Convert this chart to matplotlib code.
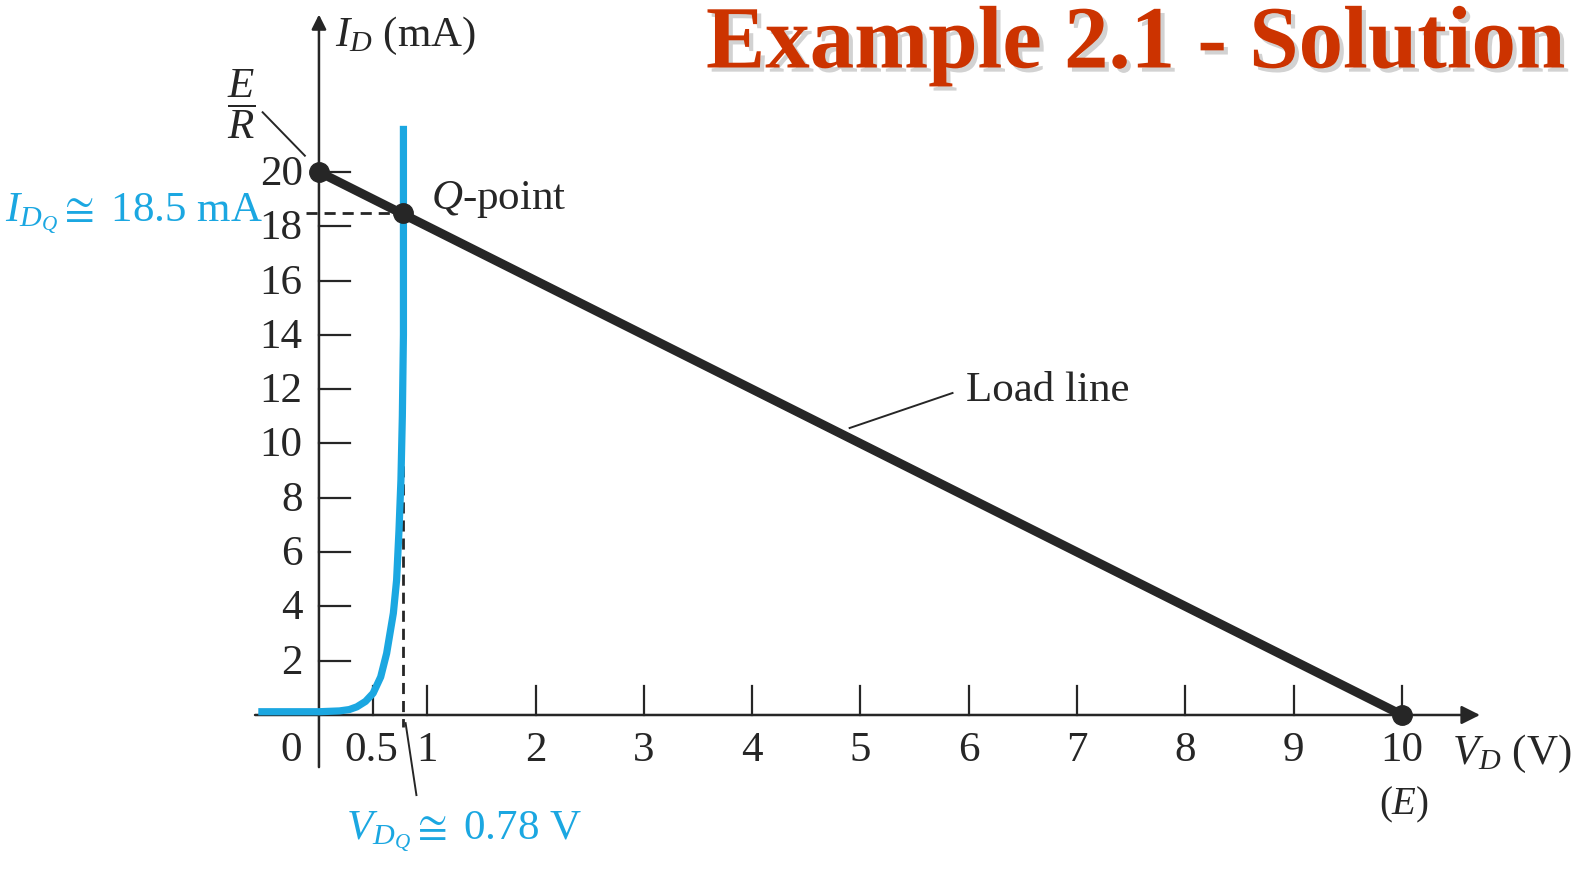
import matplotlib.pyplot as plt
import matplotlib.patheffects as pe

plt.rcParams['font.family'] = 'Liberation Serif'
plt.rcParams['mathtext.fontset'] = 'custom'
plt.rcParams['mathtext.rm'] = 'Liberation Serif'
plt.rcParams['mathtext.it'] = 'Liberation Serif:italic'

# diode characteristic I_D(V_D), read point by point
diode_v = [-0.56, 0.0, 0.19, 0.28, 0.35, 0.43, 0.5, 0.57, 0.625, 0.687, 0.717, 0.739, 0.757, 0.77, 0.78, 0.78]
diode_i = [0.12, 0.12, 0.15, 0.2, 0.3, 0.5, 0.8, 1.4, 2.27, 3.75, 4.97, 6.8, 8.66, 11.0, 14.0, 21.7]

# load line end points: E = 10 V, E/R = 20 mA
E = 10
E_over_R = 20
load_v = [0, E]
load_i = [E_over_R, 0]

# operating point
vq = 0.78
iq = 18.5

x_ticks = [0.5, 1, 2, 3, 4, 5, 6, 7, 8, 9, 10]
x_labels = ['0.5', '1', '2', '3', '4', '5', '6', '7', '8', '9', '10']
y_ticks = [2, 4, 6, 8, 10, 12, 14, 16, 18, 20]

black = '#262626'
blue = '#1ba7e1'
fs = 31

fig = plt.figure(figsize=(15.81, 8.72), dpi=100)
ax = fig.add_axes([0, 0, 1, 1])
ax.set_xlim(-2.945, 11.653)
ax.set_ylim(-5.783, 26.335)
ax.axis('off')

# axes with arrow heads
ax.annotate('', xy=(10.72, 0), xytext=(-0.59, 0),
            arrowprops=dict(arrowstyle='-|>', color=black, lw=1.8, mutation_scale=28, shrinkA=0, shrinkB=0))
ax.annotate('', xy=(0, 25.8), xytext=(0, -1.92),
            arrowprops=dict(arrowstyle='-|>', color=black, lw=1.8, mutation_scale=22, shrinkA=0, shrinkB=0))

# ticks
for xt in x_ticks:
    ax.plot([xt, xt], [0, 1.05], color=black, lw=1.6)
for yt in y_ticks:
    ax.plot([0, 0.29], [yt, yt], color=black, lw=1.6)

# tick labels
for xt, lab in zip(x_ticks, x_labels):
    xx = xt if xt != 0.5 else 0.48
    ax.text(xx, -1.33, lab, fontsize=fs, ha='center', va='center', color=black)
ax.text(-0.26, -1.33, '0', fontsize=fs, ha='center', va='center', color=black)
for yt in y_ticks:
    ax.text(-0.15, yt - 0.1, str(yt), fontsize=fs, ha='right', va='center', color=black)

# dashed guides to the Q-point
ax.plot([-0.12, vq], [iq, iq], color=black, lw=2.0, ls=(0, (4, 2.5)), zorder=2)
ax.plot([vq, vq], [iq, -0.45], color=black, lw=2.0, ls=(0, (4, 2.5)), zorder=2)

# diode curve and load line
ax.plot(diode_v, diode_i, color=blue, lw=5.2, solid_capstyle='butt', zorder=3)
ax.plot(load_v, load_i, color=black, lw=6.5, solid_capstyle='round', zorder=4)
ax.plot([0, E, vq], [E_over_R, 0, iq], 'o', color=black, ms=14, zorder=5)

# annotations
ax.text(0.15, 25.0, r'$I_D$ (mA)', fontsize=fs, ha='left', va='center', color=black)
ax.text(-0.72, 22.5, r'$\dfrac{E}{R}$', fontsize=fs, ha='center', va='center', color=black)
ax.plot([-0.52, -0.13], [22.2, 20.6], color=black, lw=1.4)
ax.text(1.03, 19.0, r'$Q$-point', fontsize=fs, ha='left', va='center', color=black)
ax.text(-0.52, 18.45, r'$I_{D_Q} \cong$ 18.5 mA', fontsize=fs, ha='right', va='center', color=blue)
ax.text(5.97, 11.95, 'Load line', fontsize=fs, ha='left', va='center', color=black)
ax.plot([4.9, 5.85], [10.57, 11.86], color=black, lw=1.4)
ax.text(10.46, -1.45, r'$V_D$ (V)', fontsize=fs, ha='left', va='center', color=black)
ax.text(10.02, -3.3, r'($E$)', fontsize=fs - 3, ha='center', va='center', color=black)
ax.plot([0.8, 0.9], [-0.3, -2.95], color=black, lw=1.4)
ax.text(0.25, -4.3, r'$V_{D_Q} \cong$ 0.78 V', fontsize=fs, ha='left', va='center', color=blue)

# slide title
ax.text(706 / 1581, 1 - 46 / 872, 'Example 2.1 - Solution', transform=ax.transAxes,
        fontsize=64, fontweight='bold', color='#cc3300', ha='left', va='center',
        path_effects=[pe.withSimplePatchShadow(offset=(3, -3), shadow_rgbFace='gray', alpha=0.35)])

fig.savefig('out.png', dpi=100)
